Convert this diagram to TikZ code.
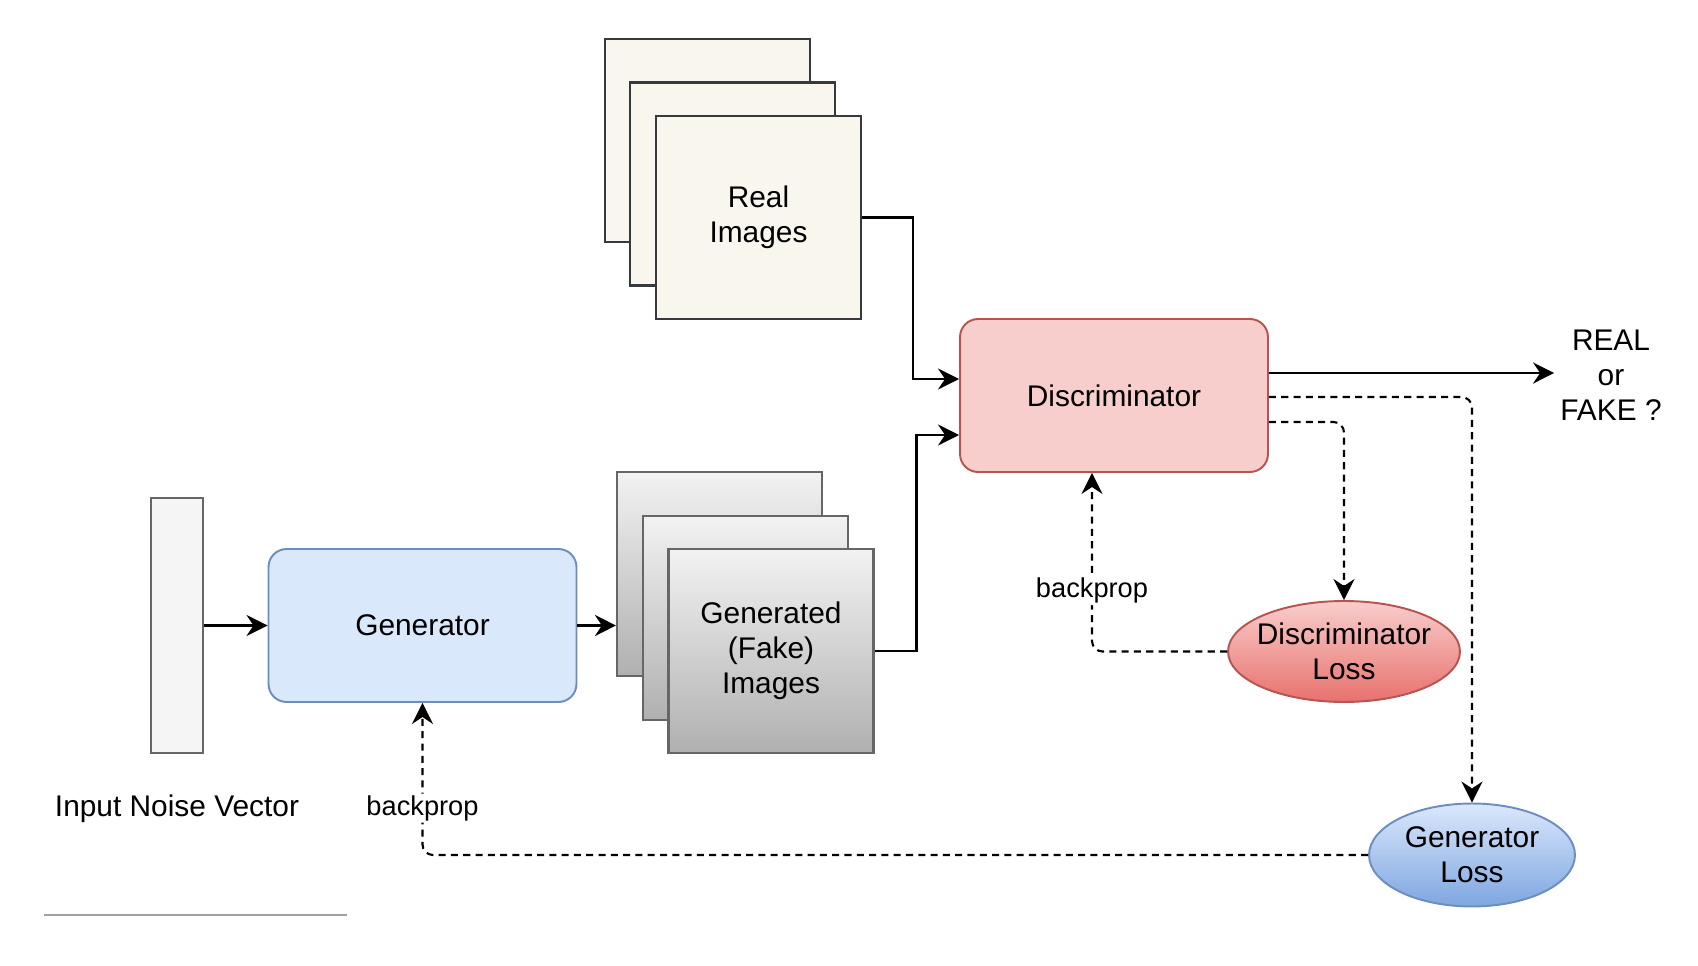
\documentclass[tikz,border=0pt]{standalone}
\usepackage{fontspec}
\setmainfont{Liberation Sans}
\usepackage{tikz}
\usetikzlibrary{arrows.meta,positioning,shapes.geometric}
\definecolor{realfill}{HTML}{F9F7ED}
\definecolor{realedge}{HTML}{36393D}
\definecolor{fakeedge}{HTML}{666666}
\definecolor{fakelight}{HTML}{F2F2F2}
\definecolor{fakedark}{HTML}{B0B0B0}
\definecolor{noisefill}{HTML}{F5F5F5}
\definecolor{genfill}{HTML}{DAE8FC}
\definecolor{genedge}{HTML}{6C8EBF}
\definecolor{discfill}{HTML}{F8CECC}
\definecolor{discedge}{HTML}{B85450}
\definecolor{dlossdark}{HTML}{E8716D}
\definecolor{glossdark}{HTML}{7EA6E0}
\definecolor{rulegray}{HTML}{A0A0A0}
\tikzset{
    realimg/.style={
           rectangle,
           draw=realedge, line width=1.2pt,
           fill=realfill,
           minimum width=4.1cm,
           minimum height=4.06cm
           },
    fakeimg/.style={
           rectangle,
           draw=fakeedge, line width=1.2pt,
           top color=fakelight, bottom color=fakedark,
           minimum width=4.1cm,
           minimum height=4.08cm
           },
    block/.style={
           rectangle,
           rounded corners=0.36cm,
           line width=1.1pt,
           minimum width=6.16cm,
           minimum height=3.06cm
           },
    loss/.style={
           ellipse,
           line width=1.1pt,
           inner sep=0pt
           },
    txt/.style={
           align=center,
           font=\fontsize{17}{20}\selectfont
           },
    lbl/.style={
           fill=white,
           inner sep=1pt,
           font=\fontsize{15.5}{18}\selectfont
           },
    flow/.style={
           -{Stealth[length=12pt,width=12pt,inset=4pt]},
           line width=1.2pt
           },
    backflow/.style={
           flow,
           dash pattern=on 4pt off 3pt,
           rounded corners=6pt
           }
}

\begin{document}
\begin{tikzpicture}[x=0.02cm, y=-0.02cm]
   \useasboundingbox (0,0) rectangle (1698,966);
   % real images
   \node[realimg] (realA) at (707.5,140.5) {};
   \node[realimg] (realB) at (732.5,184) {};
   \node[realimg, txt] (realC) at (758.5,217.5) {Real\\Images};
   % noise and generator
   \node[rectangle, draw=fakeedge, line width=1.1pt, fill=noisefill,
         minimum width=1.04cm, minimum height=5.1cm] (noise) at (177,625.5) {};
   \node[txt, below=0.7cm of noise] (noiselbl) {Input Noise Vector};
   \node[block, txt, draw=genedge, fill=genfill] (gen) at (422.5,625.5) {Generator};
   % generated images
   \node[fakeimg] (fakeA) at (719.5,574) {};
   \node[fakeimg] (fakeB) at (745.5,618) {};
   \node[fakeimg, txt] (fakeC) at (771,651) {Generated\\(Fake)\\Images};
   % discriminator and losses
   \node[block, txt, draw=discedge, fill=discfill] (disc) at (1114,395.5) {Discriminator};
   \node[txt] (verdict) at (1611,375) {REAL\\or\\FAKE ?};
   \node[loss, txt, inner xsep=-4pt, draw=discedge, top color=discfill, bottom color=dlossdark,
         minimum width=4.64cm, minimum height=2.02cm] (dloss) at (1344,651.5) {Discriminator\\Loss};
   \node[loss, txt, draw=genedge, top color=genfill, bottom color=glossdark,
         minimum width=4.12cm, minimum height=2.06cm] (gloss) at (1472,855) {Generator\\Loss};

   \draw[flow] (noise) -- (gen);
   \draw[flow] (gen.east) -- (gen.east -| fakeA.west);
   \draw[flow] (realC.east) -- ++(51,0) |- ([yshift=0.33cm]disc.west);
   \draw[flow] (fakeC.east) -- ++(42,0) |- ([yshift=-0.79cm]disc.west);
   \draw[flow] ([yshift=0.45cm]disc.east) -- ([yshift=0.45cm]disc.east -| verdict.west);
   \draw[backflow] ([yshift=-0.03cm]disc.east) -| (gloss.north);
   \draw[backflow] ([yshift=-0.53cm]disc.east) -| (dloss.north);
   \draw[backflow] (dloss.west) -| node[lbl, pos=0.67] {backprop} ([xshift=-0.44cm]disc.south);
   \draw[backflow] (gloss.west) -| node[lbl, pos=0.654] {backprop} (gen.south);

   \draw[rulegray, line width=1.2pt] (44,915) -- (347,915);
\end{tikzpicture}
\end{document}
